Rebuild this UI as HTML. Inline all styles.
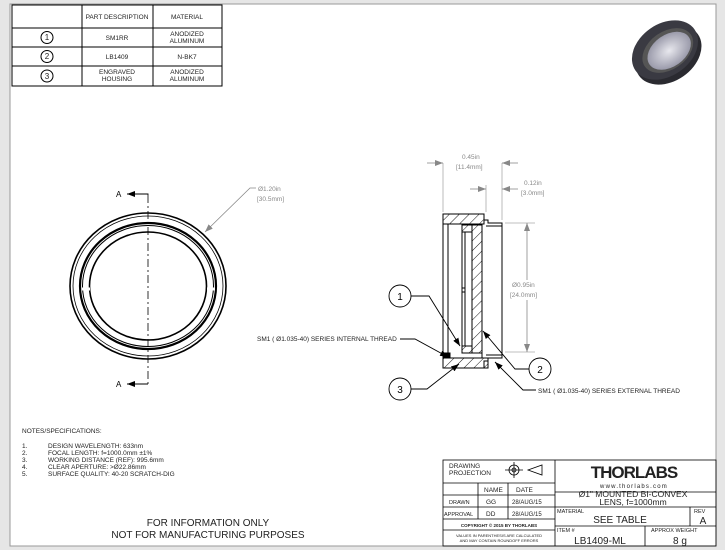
<!DOCTYPE html>
<html><head><meta charset="utf-8"><style>
body{margin:0;background:#fff;}
svg{display:block;font-family:"Liberation Sans",sans-serif;}
</style></head><body>
<svg width="725" height="550" viewBox="0 0 725 550" xmlns="http://www.w3.org/2000/svg">
<defs>
<pattern id="h" width="7" height="7" patternUnits="userSpaceOnUse" patternTransform="rotate(45)">
<line x1="0" y1="0" x2="0" y2="7" stroke="#000" stroke-width="0.9"/></pattern>
<marker id="a" markerWidth="8" markerHeight="6" refX="8" refY="3" orient="auto" markerUnits="userSpaceOnUse"><path d="M0,0 L8,3 L0,6z" fill="#000"/></marker>
<marker id="g" markerWidth="8" markerHeight="6" refX="8" refY="3" orient="auto" markerUnits="userSpaceOnUse"><path d="M0,0 L8,3 L0,6z" fill="#888"/></marker>
<radialGradient id="lens" cx="50%" cy="50%" r="50%"><stop offset="0" stop-color="#e8e8ee"/><stop offset="1" stop-color="#9a9aaa"/></radialGradient>
</defs>
<rect width="725" height="550" fill="#e6e6e6"/>
<rect x="10" y="4" width="706" height="542" fill="#fff" stroke="#999" stroke-width="1"/>

<!-- parts table -->
<g stroke="#000" stroke-width="1" fill="none">
<rect x="12" y="5" width="210" height="81"/>
<line x1="12" y1="28" x2="222" y2="28"/><line x1="12" y1="47" x2="222" y2="47"/><line x1="12" y1="66" x2="222" y2="66"/>
<line x1="82" y1="5" x2="82" y2="86"/><line x1="153" y1="5" x2="153" y2="86"/>
<circle cx="47" cy="37.5" r="6"/><circle cx="47" cy="56.5" r="6"/><circle cx="47" cy="76" r="6"/>
</g>
<g font-size="6.5" text-anchor="middle" fill="#222">
<text x="117" y="19">PART DESCRIPTION</text><text x="187" y="19">MATERIAL</text>
<text x="47" y="40" font-size="8">1</text><text x="47" y="59" font-size="8">2</text><text x="47" y="79" font-size="8">3</text>
<text x="117" y="40">SM1RR</text><text x="187" y="36">ANODIZED</text><text x="187" y="43">ALUMINUM</text>
<text x="117" y="59">LB1409</text><text x="187" y="59">N-BK7</text>
<text x="117" y="74">ENGRAVED</text><text x="117" y="81">HOUSING</text>
<text x="187" y="74">ANODIZED</text><text x="187" y="81">ALUMINUM</text>
</g>

<!-- photo -->
<g transform="translate(665,50) rotate(-35)">
<ellipse cx="0" cy="6" rx="36" ry="26" fill="#2a2a30"/>
<ellipse cx="0" cy="0" rx="36" ry="26" fill="#3a3a42"/>
<ellipse cx="2" cy="2" rx="28" ry="19" fill="#555"/>
<ellipse cx="3" cy="3" rx="24" ry="16" fill="url(#lens)"/>
</g>

<!-- front view -->
<g fill="none" stroke="#000">
<ellipse cx="148" cy="286" rx="78" ry="73" stroke-width="1.6"/>
<ellipse cx="148" cy="286" rx="75" ry="70" stroke-width="0.8"/>
<ellipse cx="148" cy="286" rx="68" ry="63" stroke-width="2.2"/>
<ellipse cx="148" cy="286" rx="65.5" ry="60.5" stroke-width="1"/>
<ellipse cx="148" cy="286" rx="58.5" ry="54" stroke-width="1.6"/>
<line x1="82" y1="289" x2="90" y2="289" stroke="#fff" stroke-width="3"/>
<line x1="207" y1="289" x2="215" y2="289" stroke="#fff" stroke-width="3"/>
<line x1="148" y1="195" x2="148" y2="384" stroke-dasharray="8,3,2,3" stroke-width="0.8"/>
<polyline points="148,195 148,194 127,194" stroke-width="0.9" marker-end="url(#a)"/>
<polyline points="148,384 127,384" stroke-width="0.9" marker-end="url(#a)"/>
<polyline points="256,188 250,188 205,232" stroke="#888" stroke-width="0.8" marker-end="url(#g)"/>
</g>
<text x="116" y="197" font-size="8">A</text><text x="116" y="387" font-size="8">A</text>
<text x="258" y="191" font-size="6.5" fill="#888">Ø1.20in</text>
<text x="257" y="201" font-size="6.5" fill="#888">[30.5mm]</text>

<!-- section view -->
<g stroke="#000" stroke-width="1">
<path d="M443,214 H484 V220 H488 V223 H502 V358 H488 V361 H484 V368 H443 Z" fill="#fff"/>
<rect x="443" y="214" width="41" height="10" fill="url(#h)"/>
<rect x="443" y="358" width="45" height="10" fill="url(#h)"/>
<line x1="448" y1="224" x2="448" y2="358"/>
<rect x="462" y="225" width="10" height="128" fill="#fff"/>
<rect x="462" y="225" width="10" height="7" fill="url(#h)"/>
<rect x="462" y="346" width="10" height="7" fill="url(#h)"/>
<line x1="465" y1="232" x2="465" y2="346"/>
<rect x="472" y="225" width="10" height="128" fill="url(#h)"/>
<line x1="482" y1="224" x2="482" y2="358"/>
<line x1="486" y1="226" x2="502" y2="226"/><line x1="486" y1="355" x2="502" y2="355"/>
<path d="M462,288 h3 v4 h-3" fill="none"/>
<rect x="444" y="353" width="6" height="5" fill="#000"/>
</g>
<g stroke="#aaa" stroke-width="0.8" fill="none">
<line x1="443" y1="163" x2="443" y2="212"/><line x1="502" y1="163" x2="502" y2="220"/>
<line x1="486" y1="185" x2="486" y2="212"/>
<line x1="505" y1="223" x2="535" y2="223"/><line x1="505" y1="352" x2="535" y2="352"/>
</g>
<g stroke="#888" stroke-width="0.8" fill="none">
<line x1="427" y1="163" x2="443" y2="163" marker-end="url(#g)"/>
<line x1="518" y1="163" x2="502" y2="163" marker-end="url(#g)"/>
<line x1="470" y1="189" x2="486" y2="189" marker-end="url(#g)"/>
<line x1="518" y1="189" x2="502" y2="189" marker-end="url(#g)"/>
<line x1="527" y1="280" x2="527" y2="223" marker-end="url(#g)"/>
<line x1="527" y1="300" x2="527" y2="352" marker-end="url(#g)"/>
</g>
<g font-size="6.5" fill="#888">
<text x="462" y="159">0.45in</text><text x="456" y="169">[11.4mm]</text>
<text x="524" y="185">0.12in</text><text x="521" y="195">[3.0mm]</text>
<text x="512" y="287">Ø0.95in</text><text x="510" y="297">[24.0mm]</text>
</g>
<g stroke="#000" stroke-width="0.9" fill="none">
<circle cx="400" cy="296" r="11"/><circle cx="540" cy="369" r="11"/><circle cx="400" cy="389" r="11"/>
<polyline points="411,296 429,296 460,346" marker-end="url(#a)"/>
<polyline points="529,369 515,369 483,331" marker-end="url(#a)"/>
<polyline points="411,389 427,389 459,364" marker-end="url(#a)"/>
<polyline points="400,339 415,339 448,357" marker-end="url(#a)"/>
<polyline points="536,390 523,390 495,362" marker-end="url(#a)"/>
</g>
<g font-size="10" text-anchor="middle"><text x="400" y="300">1</text><text x="540" y="373">2</text><text x="400" y="393">3</text></g>
<text x="257" y="341" font-size="6.5" fill="#222">SM1 ( Ø1.035-40) SERIES INTERNAL THREAD</text>
<text x="538" y="393" font-size="6.5" fill="#222">SM1 ( Ø1.035-40) SERIES EXTERNAL THREAD</text>

<!-- notes -->
<g font-size="6.5" fill="#222">
<text x="22" y="433">NOTES/SPECIFICATIONS:</text>
<text x="22" y="448">1.</text><text x="48" y="448">DESIGN WAVELENGTH: 633nm</text>
<text x="22" y="455">2.</text><text x="48" y="455">FOCAL LENGTH: f=1000.0mm ±1%</text>
<text x="22" y="462">3.</text><text x="48" y="462">WORKING DISTANCE (REF): 995.6mm</text>
<text x="22" y="469">4.</text><text x="48" y="469">CLEAR APERTURE: &gt;Ø22.86mm</text>
<text x="22" y="476">5.</text><text x="48" y="476">SURFACE QUALITY: 40-20 SCRATCH-DIG</text>
</g>
<g font-size="10" fill="#222" text-anchor="middle">
<text x="208" y="526">FOR INFORMATION ONLY</text>
<text x="208" y="538">NOT FOR MANUFACTURING PURPOSES</text>
</g>

<!-- title block -->
<g stroke="#000" stroke-width="0.8" fill="none">
<rect x="443" y="460" width="273" height="86"/>
<line x1="555" y1="460" x2="555" y2="546"/>
<line x1="443" y1="483" x2="555" y2="483"/>
<line x1="443" y1="495" x2="555" y2="495"/>
<line x1="443" y1="507" x2="555" y2="507"/>
<line x1="443" y1="519" x2="555" y2="519"/>
<line x1="443" y1="530" x2="555" y2="530"/>
<line x1="478" y1="483" x2="478" y2="519"/><line x1="508" y1="483" x2="508" y2="519"/>
<line x1="555" y1="492" x2="716" y2="492"/>
<line x1="555" y1="507" x2="716" y2="507"/>
<line x1="555" y1="526" x2="716" y2="526"/>
<line x1="690" y1="507" x2="690" y2="526"/>
<line x1="645" y1="526" x2="645" y2="546"/>
<circle cx="514" cy="470" r="5"/><circle cx="514" cy="470" r="2"/>
<line x1="505" y1="470" x2="523" y2="470"/><line x1="514" y1="462" x2="514" y2="478"/>
<path d="M528,470 L542,465 V475 Z"/>
</g>
<g fill="#222" font-size="6.5">
<text x="449" y="468">DRAWING</text><text x="449" y="475">PROJECTION</text>
<text x="484" y="492">NAME</text><text x="516" y="492">DATE</text>
<text x="449" y="504" font-size="5.5">DRAWN</text><text x="486" y="504">GG</text><text x="512" y="504" font-size="6">28/AUG/15</text>
<text x="444" y="516" font-size="5.5">APPROVAL</text><text x="486" y="516">DD</text><text x="512" y="516" font-size="6">28/AUG/15</text>
<text x="499" y="527" font-size="4.5" text-anchor="middle" font-weight="bold">COPYRIGHT © 2015 BY THORLABS</text>
<text x="499" y="537" font-size="4" text-anchor="middle">VALUES IN PARENTHESIS ARE CALCULATED</text>
<text x="499" y="542" font-size="4" text-anchor="middle">AND MAY CONTAIN ROUNDOFF ERRORS</text>
<text x="634" y="478" font-size="17" font-weight="bold" text-anchor="middle" letter-spacing="-1">THORLABS</text>
<text x="634" y="488" font-size="6" text-anchor="middle" letter-spacing="1.2">www.thorlabs.com</text>
<text x="633" y="497" font-size="8.5" text-anchor="middle">Ø1" MOUNTED BI-CONVEX</text>
<text x="633" y="505" font-size="8.5" text-anchor="middle">LENS, f=1000mm</text>
<text x="557" y="513" font-size="5.5">MATERIAL</text>
<text x="620" y="523" font-size="10" text-anchor="middle">SEE TABLE</text>
<text x="694" y="513" font-size="5.5">REV</text><text x="703" y="524" font-size="10" text-anchor="middle">A</text>
<text x="557" y="532" font-size="5.5">ITEM #</text>
<text x="600" y="544" font-size="10" text-anchor="middle">LB1409-ML</text>
<text x="651" y="532" font-size="5.5">APPROX WEIGHT</text>
<text x="680" y="544" font-size="10" text-anchor="middle">8 g</text>
</g>
</svg>
</body></html>
